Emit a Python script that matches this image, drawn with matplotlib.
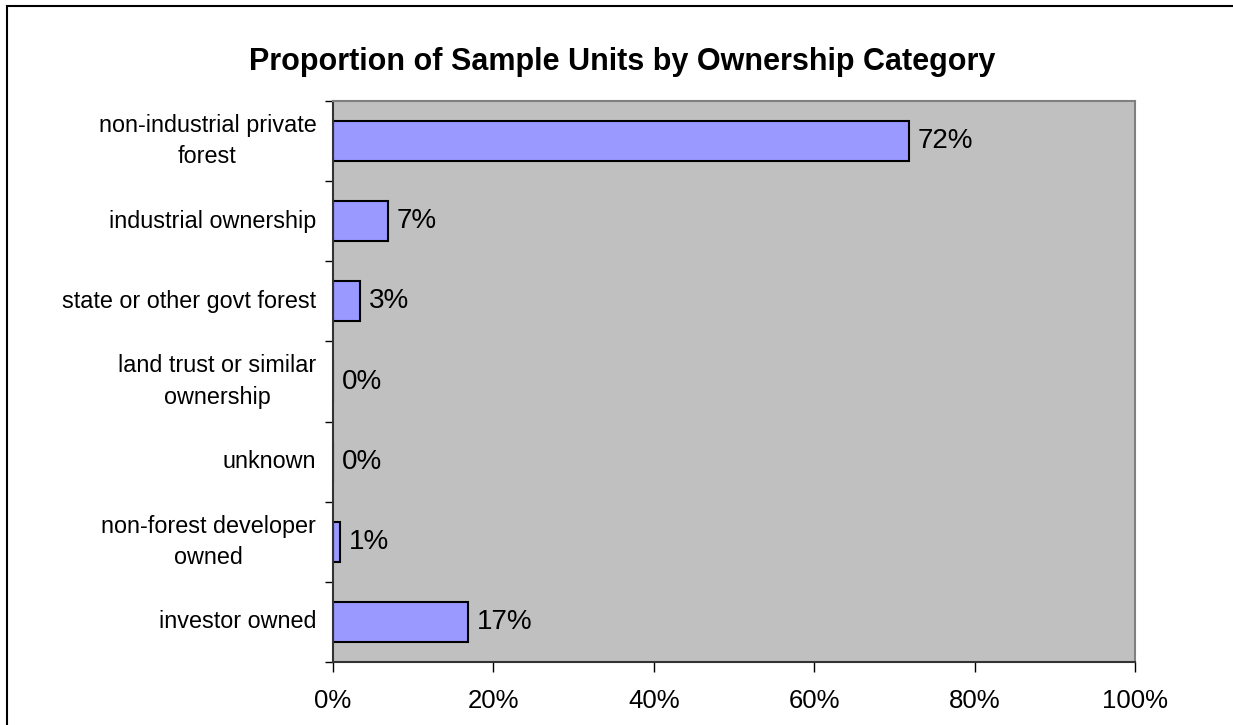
import matplotlib.pyplot as plt
from matplotlib.patches import Rectangle
from matplotlib.ticker import FixedLocator, NullFormatter

plt.rcParams['font.family'] = ['Liberation Sans', 'DejaVu Sans']

categories = ['non-industrial private\nforest', 'industrial ownership',
              'state or other govt forest', 'land trust or similar\nownership',
              'unknown', 'non-forest developer\nowned', 'investor owned']
shares = [0.718, 0.068, 0.034, 0.0, 0.0, 0.009, 0.168]
share_labels = ['72%', '7%', '3%', '0%', '0%', '1%', '17%']
x_ticks = [0, 0.2, 0.4, 0.6, 0.8, 1.0]
x_tick_labels = ['0%', '20%', '40%', '60%', '80%', '100%']

fig = plt.figure(figsize=(12.33, 7.25), dpi=100)
ax = fig.add_axes([333/1233, 1 - 662/725, (1135-333)/1233, (662-101)/725])
ax.set_facecolor('#C0C0C0')

y = list(range(len(categories)))
ax.barh(y, shares, height=0.5, color='#9999FF', edgecolor='black', linewidth=1.5)
for yi, v, lab in zip(y, shares, share_labels):
    ax.text(v + 0.011, yi, lab, va='center', ha='left', fontsize=20)

ax.set_xlim(0, 1)
ax.set_ylim(len(categories) - 0.5, -0.5)
ax.set_xticks(x_ticks)
ax.set_xticklabels(x_tick_labels, fontsize=18.5)
ax.set_yticks(y)
ax.set_yticklabels(categories, fontsize=16.8, multialignment='center',
                   linespacing=1.45, va='center')
ax.tick_params(axis='y', length=0, pad=12)
ax.yaxis.set_minor_locator(FixedLocator([i - 0.5 for i in range(len(categories) + 1)]))
ax.yaxis.set_minor_formatter(NullFormatter())
ax.tick_params(axis='y', which='minor', length=6, width=1, color='black')
ax.tick_params(axis='x', length=7, width=1, pad=12.5)

for s in ['left', 'bottom']:
    ax.spines[s].set_color('#333333')
    ax.spines[s].set_linewidth(1.5)
for s in ['top', 'right']:
    ax.spines[s].set_color('#808080')
    ax.spines[s].set_linewidth(1.5)

fig.text(622/1233, 1 - 62/725, 'Proportion of Sample Units by Ownership Category',
         ha='center', va='center', fontsize=22, fontweight='bold')

fig.patches.append(Rectangle((7/1233, -0.1), 1.2, 1 - 6/725 + 0.1, transform=fig.transFigure,
                             fill=False, edgecolor='black', linewidth=1.5, clip_on=False))

fig.savefig('out.png', dpi=100)
